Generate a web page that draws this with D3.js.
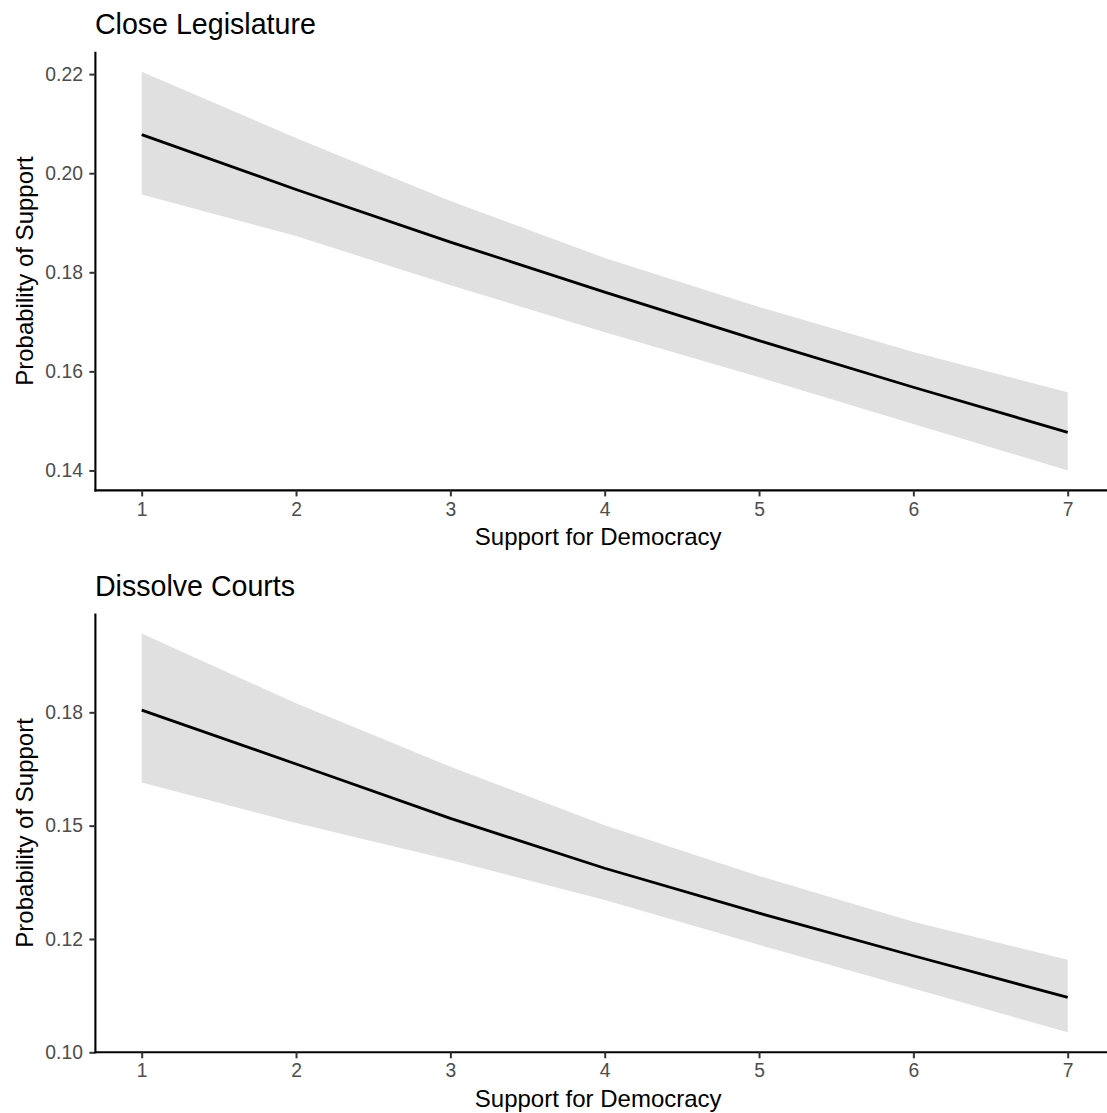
<!DOCTYPE html>
<html>
<head>
<meta charset="utf-8">
<script src="https://cdn.jsdelivr.net/npm/d3@7"></script>
<style>
  html, body { margin: 0; padding: 0; background: #ffffff; }
  svg { display: block; }
  text { font-family: "Liberation Sans", Arial, sans-serif; }
</style>
</head>
<body>
<svg id="chart" width="1107" height="1113"></svg>
<script>
// Predicted probability of support by level of support for democracy
const democracyLevels = [1, 2, 3, 4, 5, 6, 7];

// Close Legislature: fitted probability and 95% interval
const legislatureFit   = [0.2078, 0.1967, 0.1861, 0.1760, 0.1662, 0.1568, 0.1477];
const legislatureUpper = [0.2205, 0.2071, 0.1944, 0.1829, 0.1730, 0.1639, 0.1558];
const legislatureLower = [0.1957, 0.1873, 0.1774, 0.1679, 0.1588, 0.1494, 0.1400];

// Dissolve Courts: fitted probability and 95% interval
const courtsFit   = [0.1755, 0.1636, 0.1516, 0.1406, 0.1307, 0.1213, 0.1121];
const courtsUpper = [0.1924, 0.1770, 0.1630, 0.1501, 0.1389, 0.1288, 0.1204];
const courtsLower = [0.1595, 0.1506, 0.1424, 0.1336, 0.1237, 0.1141, 0.1044];

// Axis ticks and labels
const xTicks = [1, 2, 3, 4, 5, 6, 7];
const legislatureYTicks = [0.14, 0.16, 0.18, 0.20, 0.22];
const legislatureYLabels = ["0.14", "0.16", "0.18", "0.20", "0.22"];
const courtsYTicks = [0.100, 0.125, 0.150, 0.175];
const courtsYLabels = ["0.10", "0.12", "0.15", "0.18"];

const panelTitles = ["Close Legislature", "Dissolve Courts"];
const xAxisTitle = "Support for Democracy";
const yAxisTitle = "Probability of Support";

const svg = d3.select("#chart");

const panels = [
  { title: panelTitles[0], fit: legislatureFit, upper: legislatureUpper, lower: legislatureLower,
    yTicks: legislatureYTicks, yLabels: legislatureYLabels, top: 51.7, bottom: 490.4 },
  { title: panelTitles[1], fit: courtsFit, upper: courtsUpper, lower: courtsLower,
    yTicks: courtsYTicks, yLabels: courtsYLabels, top: 613.5, bottom: 1052.3 }
];

const left = 95.4, right = 1114;

// x scale shared by both panels, with 5% padding on each side
const xExt = d3.extent(democracyLevels);
const xPad = (xExt[1] - xExt[0]) * 0.05;
const x = d3.scaleLinear().domain([xExt[0] - xPad, xExt[1] + xPad]).range([left, right]);

panels.forEach(p => {
  const rows = democracyLevels.map((lvl, i) => ({ lvl, fit: p.fit[i], lo: p.lower[i], hi: p.upper[i] }));
  const yMin = d3.min(p.lower), yMax = d3.max(p.upper);
  const yPad = (yMax - yMin) * 0.05;
  const y = d3.scaleLinear().domain([yMin - yPad, yMax + yPad]).range([p.bottom, p.top]);

  const g = svg.append("g");

  // confidence ribbon
  g.append("path")
    .datum(rows)
    .attr("fill", "#e0e0e0")
    .attr("d", d3.area().x(d => x(d.lvl)).y0(d => y(d.lo)).y1(d => y(d.hi)));

  // fitted line
  g.append("path")
    .datum(rows)
    .attr("fill", "none")
    .attr("stroke", "#000")
    .attr("stroke-width", 2.8)
    .attr("stroke-linejoin", "round")
    .attr("d", d3.line().x(d => x(d.lvl)).y(d => y(d.fit)));

  // y axis
  const yAxis = g.append("g")
    .attr("transform", `translate(${left},0)`)
    .call(d3.axisLeft(y).tickValues(p.yTicks)
      .tickFormat((d, i) => p.yLabels[i]).tickSize(6).tickSizeOuter(0).tickPadding(6.5));
  yAxis.select(".domain").attr("stroke", "#000").attr("stroke-width", 2.1)
    .attr("d", `M0,${p.top}V${p.bottom + 1}`);
  yAxis.selectAll(".tick line").attr("stroke", "#333").attr("stroke-width", 2);
  yAxis.selectAll(".tick text").attr("fill", "#4d4d4d").style("font-size", "19.3px");

  // x axis
  const xAxis = g.append("g")
    .attr("transform", `translate(0,${p.bottom})`)
    .call(d3.axisBottom(x).tickValues(xTicks).tickFormat(d3.format("d"))
      .tickSize(6).tickSizeOuter(0).tickPadding(5.5));
  xAxis.select(".domain").attr("stroke", "#000").attr("stroke-width", 2.1)
    .attr("d", `M${left - 1},0H${right}`);
  xAxis.selectAll(".tick line").attr("stroke", "#333").attr("stroke-width", 2);
  xAxis.selectAll(".tick text").attr("fill", "#4d4d4d").style("font-size", "19.3px");

  // panel title
  g.append("text")
    .attr("x", left - 0.5)
    .attr("y", p.top - 18)
    .attr("fill", "#000")
    .style("font-size", "28.6px")
    .text(p.title);

  // axis titles
  g.append("text")
    .attr("x", (left + 1101) / 2)
    .attr("y", p.bottom + 54.5)
    .attr("text-anchor", "middle")
    .attr("fill", "#000")
    .style("font-size", "24px")
    .text(xAxisTitle);

  g.append("text")
    .attr("transform", `translate(33,${(p.top + p.bottom) / 2}) rotate(-90)`)
    .attr("text-anchor", "middle")
    .attr("fill", "#000")
    .style("font-size", "24px")
    .text(yAxisTitle);
});
</script>
</body>
</html>
